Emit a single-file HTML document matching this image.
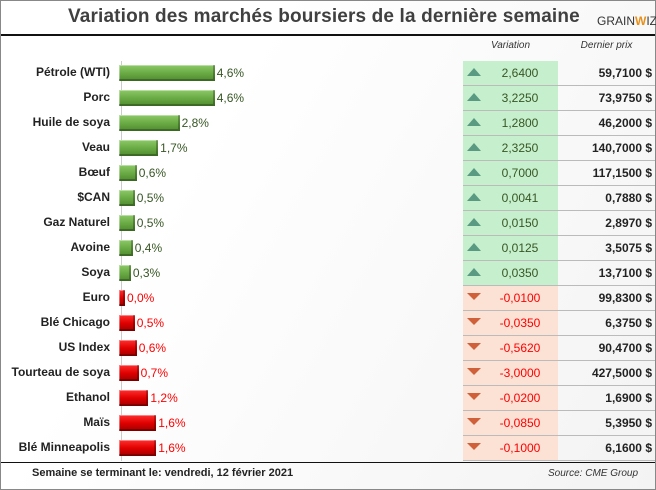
<!DOCTYPE html>
<html><head><meta charset="utf-8"><style>
body{margin:0;width:656px;height:490px;overflow:hidden;font-family:"Liberation Sans",sans-serif;background:#fff}
#frame{position:absolute;left:0;top:0;width:654px;height:488px;border:1px solid #888;background:linear-gradient(120deg,#fff 30%,#f3f3f3 100%)}
.t{position:absolute;white-space:nowrap}
</style></head><body>
<div id="frame"></div>
<div class="t" style="left:68px;top:6px;font-size:19px;font-weight:bold;color:#404040;letter-spacing:0.15px">Variation des marchés boursiers de la dernière semaine</div>
<div class="t" style="left:597px;top:14px;font-size:12px;color:#333">GRAIN<span style="color:#e8901a;font-weight:bold">W</span>IZ</div>
<div style="position:absolute;left:1px;top:34px;width:654px;height:2px;background:#111"></div>
<div class="t" style="left:463px;width:95px;top:40px;text-align:center;font-size:10px;font-style:italic;color:#333">Variation</div>
<div class="t" style="left:558px;width:97px;top:40px;text-align:center;font-size:10px;font-style:italic;color:#333">Dernier prix</div>
<div style="position:absolute;left:121px;top:61px;width:1px;height:400px;background:#ccc"></div>
<div style="position:absolute;left:1px;top:462px;width:654px;height:1px;background:#111"></div>
<div class="t" style="left:32px;top:467px;font-size:11px;font-weight:bold;color:#222">Semaine se terminant le: vendredi, 12 février 2021</div>
<div class="t" style="left:548px;top:468px;font-size:10px;font-style:italic;color:#333">Source: CME Group</div>
<div id="rows"></div>
<script>
const categories=["Pétrole (WTI)","Porc","Huile de soya","Veau","Bœuf","$CAN","Gaz Naturel","Avoine","Soya","Euro","Blé Chicago","US Index","Tourteau de soya","Ethanol","Maïs","Blé Minneapolis"];
const pctValues=[4.6,4.6,2.8,1.7,0.6,0.5,0.5,0.4,0.3,0.0,0.5,0.6,0.7,1.2,1.6,1.6];
const directions=[1,1,1,1,1,1,1,1,1,-1,-1,-1,-1,-1,-1,-1];
const variations=["2,6400","3,2250","1,2800","2,3250","0,7000","0,0041","0,0150","0,0125","0,0350","-0,0100","-0,0350","-0,5620","-3,0000","-0,0200","-0,0850","-0,1000"];
const prices=["59,7100 $","73,9750 $","46,2000 $","140,7000 $","117,1500 $","0,7880 $","2,8970 $","3,5075 $","13,7100 $","99,8300 $","6,3750 $","90,4700 $","427,5000 $","1,6900 $","5,3950 $","6,1600 $"];
const x0=119, y0=73, step=25;
function xs(v){return 6+v*19.5;}
function yc(i){return y0+i*step;}
const root=document.getElementById('rows');
categories.forEach((c,i)=>{
  const up=directions[i]>0, y=yc(i);
  const col=up?'#375623':'#ff0000';
  let h='';
  h+=`<div class="t" style="right:546px;top:${y-8}px;font-size:12px;font-weight:bold;color:#222">${c}</div>`;
  const w=xs(pctValues[i]);
  const bg=up?'linear-gradient(#8cc968,#6bab45 50%,#4d8a2e)':'linear-gradient(#ff3030,#e00000 50%,#a00000)';
  h+=`<div style="position:absolute;left:${x0}px;top:${y-8}px;width:${w}px;height:16px;background:${bg};box-shadow:inset -2px -2px 0 rgba(0,0,0,.25),inset 1px 1px 0 rgba(255,255,255,.4)"></div>`;
  h+=`<div class="t" style="left:${x0+w+2}px;top:${y-7}px;font-size:12px;color:${col}">${pctValues[i].toFixed(1).replace('.',',')}%</div>`;
  h+=`<div style="position:absolute;left:463px;top:${y-12}px;width:95px;height:25px;background:${up?'#c6efce':'#fbe2d5'}"></div>`;
  h+= up?`<div style="position:absolute;left:467px;top:${y-5}px;width:0;height:0;border-left:7px solid transparent;border-right:7px solid transparent;border-bottom:8px solid #5a9a82"></div>`
        :`<div style="position:absolute;left:467px;top:${y-5}px;width:0;height:0;border-left:7px solid transparent;border-right:7px solid transparent;border-top:7px solid #d0603a"></div>`;
  h+=`<div class="t" style="left:490px;width:60px;top:${y-7}px;text-align:center;font-size:12px;color:${up?'#375623':'#ff0000'}">${variations[i]}</div>`;
  h+=`<div class="t" style="left:560px;width:92px;top:${y-7}px;text-align:right;font-size:12px;font-weight:bold;color:#222">${prices[i]}</div>`;
  h+=`<div style="position:absolute;left:463px;top:${y+12}px;width:192px;height:1px;background:#bbb"></div>`;
  root.insertAdjacentHTML('beforeend',h);
});
</script>
</body></html>
